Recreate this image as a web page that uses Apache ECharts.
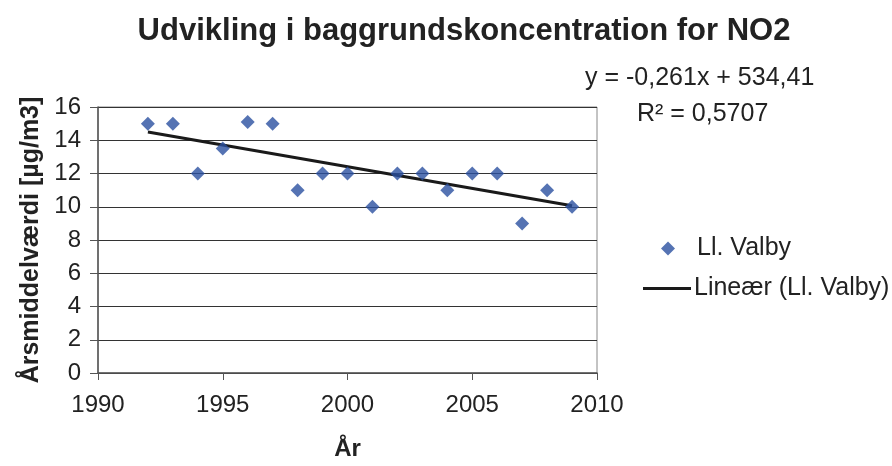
<!DOCTYPE html>
<html>
<head>
<meta charset="utf-8">
<script src="https://cdn.jsdelivr.net/npm/echarts@6/dist/echarts.min.js"></script>
<style>
html,body{margin:0;padding:0;background:#fff;}
#chart{width:892px;height:466px;}
</style>
</head>
<body>
<div id="chart"></div>
<script>
// Data
const years = [1992,1993,1994,1995,1996,1997,1998,1999,2000,2001,2002,2003,2004,2005,2006,2007,2008,2009];
const values = [15,15,12,13.5,15.1,15,11,12,12,10,12,12,11,12,12,9,11,10];
const trendSlope = -0.261;
const trendIntercept = 534.41;
const trendYears = [1992, 2009];
const xTicks = [1990,1995,2000,2005,2010];
const yTicks = [0,2,4,6,8,10,12,14,16];
const seriesName = 'Ll. Valby';
const trendName = 'Lineær (Ll. Valby)';

const scatterData = years.map((y,i)=>[y, values[i]]);
const trendData = trendYears.map(y=>[y, trendSlope*y + trendIntercept]);

const FONT = '"Liberation Sans", Arial, sans-serif';
const chart = echarts.init(document.getElementById('chart'), null, {renderer:'canvas'});
chart.setOption({
  animation:false,
  backgroundColor:'#fff',
  textStyle:{fontFamily:FONT},
  title:{
    text:'Udvikling i baggrundskoncentration for NO2',
    left:459, textAlign:'center', top:11,
    textStyle:{fontFamily:FONT, fontSize:31, fontWeight:'bold', color:'#222'}
  },
  grid:{left:98, right:295, top:107, bottom:89, show:true, borderColor:'#888', borderWidth:1, backgroundColor:'transparent'},
  xAxis:{
    type:'value', min:xTicks[0], max:xTicks[xTicks.length-1], interval:5,
    name:'År', nameLocation:'middle', nameGap:64,
    nameTextStyle:{fontFamily:FONT, fontSize:24, fontWeight:'bold', color:'#222'},
    axisLine:{show:true, onZero:false, lineStyle:{color:'#555', width:1.5}},
    axisTick:{show:true, inside:false, length:7, lineStyle:{color:'#555'}},
    axisLabel:{fontFamily:FONT, fontSize:24, color:'#222', margin:20, formatter:v=>String(v)},
    splitLine:{show:false}
  },
  yAxis:{
    type:'value', min:yTicks[0], max:yTicks[yTicks.length-1], interval:2,
    name:'Årsmiddelværdi [µg/m3]', nameLocation:'middle', nameGap:53, nameRotate:90,
    nameTextStyle:{fontFamily:FONT, fontSize:25, fontWeight:'bold', color:'#222'},
    axisLine:{show:true, lineStyle:{color:'#555', width:1.5}},
    axisTick:{show:true, inside:false, length:8, lineStyle:{color:'#555'}},
    axisLabel:{fontFamily:FONT, fontSize:24, color:'#222', margin:17},
    splitLine:{show:true, lineStyle:{color:'#333', width:1}}
  },
  legend:[
    {data:[seriesName], orient:'vertical', left:661, top:236, padding:0, itemWidth:14, itemHeight:14,
     textStyle:{fontFamily:FONT, fontSize:25, color:'#222', padding:[0,0,0,17]}},
    {data:[{name:trendName, icon:'rect'}], orient:'vertical', left:643, top:276, padding:0, itemWidth:48, itemHeight:3,
     textStyle:{fontFamily:FONT, fontSize:25, color:'#222', padding:[0,0,0,-2]}}
  ],
  graphic:[
    {type:'text', left:585, top:66, style:{text:'y = -0,261x + 534,41', fontFamily:FONT, fontSize:25, fill:'#222'}},
    {type:'text', left:637, top:102, style:{text:'R² = 0,5707', fontFamily:FONT, fontSize:25, fill:'#222'}}
  ],
  series:[
    {name:seriesName, type:'scatter', data:scatterData, symbol:'diamond', symbolSize:14,
     itemStyle:{color:'#2a50a0'}, z:3},
    {name:trendName, type:'line', data:trendData, symbol:'none', showSymbol:false,
     lineStyle:{color:'#1a1a1a', width:3}, itemStyle:{color:'#1a1a1a'}, z:2}
  ]
});
</script>
</body>
</html>
